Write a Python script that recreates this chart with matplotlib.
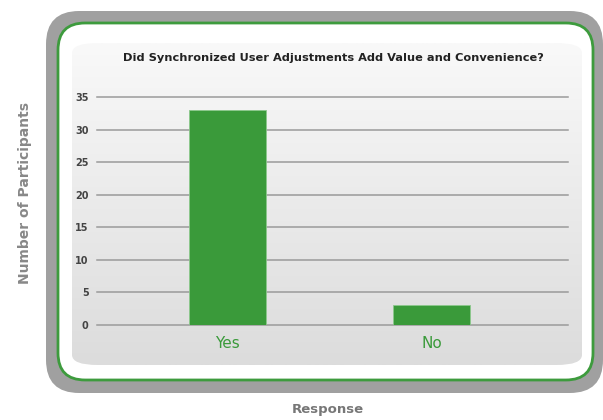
import matplotlib
matplotlib.use("Agg")
import matplotlib.pyplot as plt
import numpy as np
from matplotlib.patches import FancyBboxPatch
from matplotlib.colors import LinearSegmentedColormap

categories = ["Yes", "No"]
values = [33, 3]
yticks = [0, 5, 10, 15, 20, 25, 30, 35]
title = "Did Synchronized User Adjustments Add Value and Convenience?"
xlabel = "Response"
ylabel = "Number of Participants"

W, H = 603, 420
fig = plt.figure(figsize=(W / 100, H / 100), dpi=100)
fig.patch.set_facecolor("white")

def fx(x):
    return x / W

def fy(y):
    return 1 - y / H

# outer gray frame
outer = FancyBboxPatch((fx(46), fy(393)), fx(603 - 46), (393 - 11) / H,
                       boxstyle="round,pad=0,rounding_size=0.055",
                       transform=fig.transFigure, facecolor="#a0a0a0",
                       edgecolor="none", zorder=0, mutation_aspect=W / H)
fig.patches.append(outer)
# white inner with green border
inner = FancyBboxPatch((fx(58), fy(380)), fx(593 - 58), (380 - 23) / H,
                       boxstyle="round,pad=0,rounding_size=0.045",
                       transform=fig.transFigure, facecolor="white",
                       edgecolor="#3d9b3d", linewidth=2, zorder=1,
                       mutation_aspect=W / H)
fig.patches.append(inner)

# gradient panel
bg = fig.add_axes([fx(72), fy(365), fx(582 - 72), (365 - 43) / H], zorder=2)
grad = np.linspace(0, 1, 256).reshape(-1, 1)
cmap = LinearSegmentedColormap.from_list("g", ["#f9f9f9", "#dcdcdc"])
bg.imshow(grad, aspect="auto", cmap=cmap, extent=[0, 1, 0, 1], origin="upper")
bg.set_xlim(0, 1)
bg.set_ylim(0, 1)
bg.axis("off")
clip = FancyBboxPatch((0, 0), 1, 1, boxstyle="round,pad=0,rounding_size=0.05",
                      transform=bg.transAxes, facecolor="none", edgecolor="none",
                      mutation_aspect=(365 - 43) / (582 - 72))
bg.add_patch(clip)
for im in bg.images:
    im.set_clip_path(clip)

# main axes
ax = fig.add_axes([fx(97), fy(325), fx(568 - 97), (325 - 97) / H], zorder=3)
ax.set_facecolor("none")
x = np.arange(len(categories))
ax.bar(x, values, width=0.38, color="#3a9a3a", edgecolor="#8cc88c",
       linewidth=0.6, zorder=3)
ax.set_xlim(-0.64, 1.67)
ax.set_ylim(0, 35)
ax.set_yticks(yticks)
ax.set_yticklabels([str(t) for t in yticks], fontsize=7, fontweight="bold",
                   color="#444444")
ax.set_xticks(x)
ax.set_xticklabels(categories, fontsize=11, color="#3a9a3a")
ax.tick_params(axis="y", length=0, pad=6)
ax.tick_params(axis="x", length=0, pad=8)
for t in yticks:
    ax.axhline(t, color="#9a9a9a", linewidth=1.1, zorder=1, clip_on=False)
for s in ax.spines.values():
    s.set_visible(False)

fig.text(fx(333), fy(58), title, ha="center", va="center", fontsize=8.2,
         fontweight="bold", color="#222222", zorder=5)
fig.text(fx(328), fy(409), xlabel, ha="center", va="center", fontsize=9.5,
         fontweight="bold", color="#777777")
fig.text(fx(25), fy(193), ylabel, ha="center", va="center", fontsize=10,
         fontweight="bold", color="#888888", rotation=90)

fig.savefig("out.png", dpi=100)
